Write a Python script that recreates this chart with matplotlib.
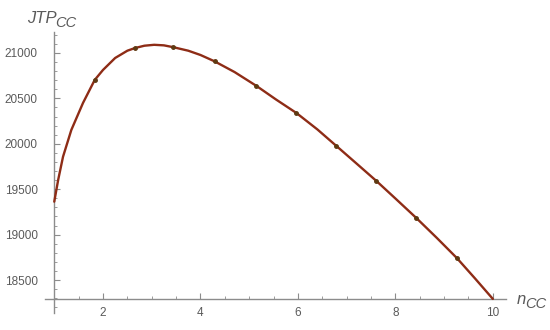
import matplotlib
matplotlib.use("Agg")
import matplotlib.pyplot as plt
from matplotlib.ticker import MultipleLocator

plt.rcParams['font.family'] = ['Liberation Sans', 'DejaVu Sans']

# curve
n_cc = [1.0, 1.08, 1.18, 1.35, 1.59, 1.83, 2.0, 2.25, 2.5, 2.66, 2.85, 3.05,
        3.25, 3.44, 3.75, 4.0, 4.29, 4.7, 5.15, 5.55, 5.97, 6.4, 6.79, 7.2,
        7.61, 8.0, 8.43, 8.85, 9.26, 9.63, 10.0]
jtp_cc = [19363, 19602, 19858, 20152, 20450, 20703, 20813, 20945, 21025,
          21055, 21080, 21090, 21084, 21064, 21025, 20978, 20908, 20790,
          20637, 20488, 20339, 20158, 19976, 19784, 19591, 19398, 19183,
          18964, 18743, 18520, 18292]

# sample markers on the curve
mark_x = [1.83, 2.66, 3.44, 4.29, 5.15, 5.97, 6.79, 7.61, 8.43, 9.26]
mark_y = [20703, 21055, 21064, 20908, 20637, 20339, 19976, 19591, 19183, 18743]

x_ticks = [2, 4, 6, 8, 10]
y_ticks = [18500, 19000, 19500, 20000, 20500, 21000]

fig = plt.figure(figsize=(5.5, 3.3), dpi=100)
ax = fig.add_axes([45 / 550, 17 / 330, 461 / 550, 281 / 330])

ax.plot(n_cc, jtp_cc, color='#8e2c16', lw=1.7, solid_capstyle='round',
        solid_joinstyle='round', zorder=3)
ax.plot(mark_x, mark_y, 'o', color='#5e3a12', ms=2.5, zorder=4)

ax.set_xlim(0.81, 10.27)
ax.set_ylim(18137, 21231)

for s in ['top', 'right']:
    ax.spines[s].set_visible(False)
ax.spines['left'].set_position(('data', 1))
ax.spines['bottom'].set_position(('data', 18295))
for s in ['left', 'bottom']:
    ax.spines[s].set_color('#8c8c8c')
    ax.spines[s].set_linewidth(1.0)

ax.set_xticks(x_ticks)
ax.set_yticks(y_ticks)
ax.set_xticklabels([str(v) for v in x_ticks])
ax.set_yticklabels([str(v) for v in y_ticks])
ax.xaxis.set_minor_locator(MultipleLocator(0.5))
ax.yaxis.set_minor_locator(MultipleLocator(100))
ax.tick_params(which='major', direction='in', length=4, width=0.8,
               color='#8c8c8c', labelsize=8.5, labelcolor='#5a5a5a')
ax.tick_params(which='minor', direction='in', length=2, width=0.6,
               color='#8c8c8c')
ax.tick_params(axis='x', pad=6)
ax.tick_params(axis='y', pad=12)

# axis titles: italic main part with a slightly lowered subscript
fig.text(27 / 550, 1 - 23 / 330, 'JTP', style='italic', fontsize=12,
         color='#5a5a5a', va='baseline', ha='left')
fig.text(55 / 550, 1 - 27 / 330, 'CC', style='italic', fontsize=10.5,
         color='#5a5a5a', va='baseline', ha='left')
fig.text(517 / 550, 1 - 304 / 330, 'n', style='italic', fontsize=12,
         color='#5a5a5a', va='baseline', ha='left')
fig.text(525 / 550, 1 - 308 / 330, 'CC', style='italic', fontsize=10.5,
         color='#5a5a5a', va='baseline', ha='left')

fig.savefig('out.png', dpi=100)
plt.close(fig)
